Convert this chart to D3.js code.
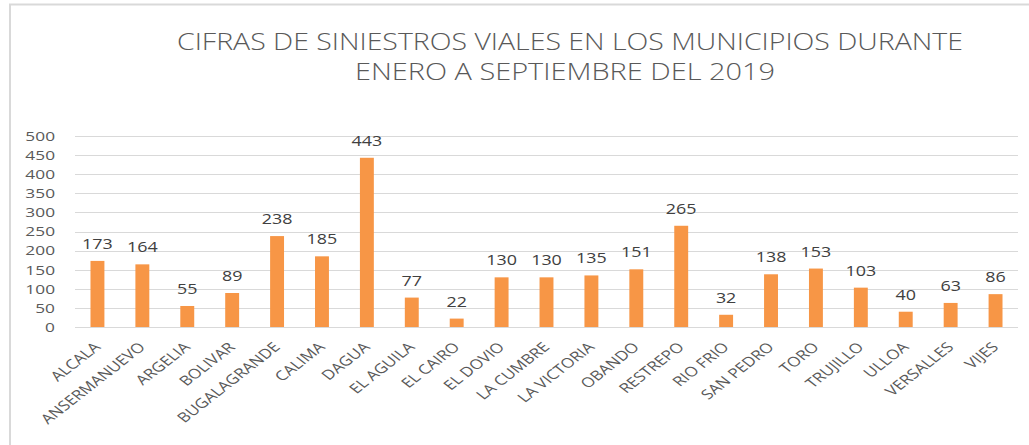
<!DOCTYPE html>
<html>
<head>
<meta charset="utf-8">
<script src="https://cdn.jsdelivr.net/npm/d3@7"></script>
<style>
  body { margin: 0; background: #fff; }
  svg { display: block; }
</style>
</head>
<body>
<div id="chart"></div>
<script>
const municipios = ['ALCALA', 'ANSERMANUEVO', 'ARGELIA', 'BOLIVAR', 'BUGALAGRANDE', 'CALIMA', 'DAGUA',
  'EL AGUILA', 'EL CAIRO', 'EL DOVIO', 'LA CUMBRE', 'LA VICTORIA', 'OBANDO', 'RESTREPO', 'RIO FRIO',
  'SAN PEDRO', 'TORO', 'TRUJILLO', 'ULLOA', 'VERSALLES', 'VIJES'];
const siniestros = [173, 164, 55, 89, 238, 185, 443, 77, 22, 130, 130, 135, 151, 265, 32, 138, 153, 103, 40, 63, 86];
const yTicks = [0, 50, 100, 150, 200, 250, 300, 350, 400, 450, 500];
const titleLines = ['CIFRAS DE SINIESTROS VIALES EN LOS MUNICIPIOS DURANTE', 'ENERO A SEPTIEMBRE DEL 2019'];

const width = 1029, height = 445;
const margin = { top: 136, right: 11, bottom: 118, left: 75 };
const innerW = width - margin.left - margin.right;
const innerH = height - margin.top - margin.bottom;
const stretch = 1.28; // the picture is a bit wider than tall, text looks stretched

const svg = d3.select('#chart').append('svg')
  .attr('width', width)
  .attr('height', height);

// chart frame
svg.append('path')
  .attr('d', `M10,${height} V4.5 H${width}`)
  .attr('fill', 'none')
  .attr('stroke', '#d9d9d9')
  .attr('stroke-width', 2);

// title
const title = svg.append('g')
  .attr('font-family', '"Open Sans", sans-serif')
  .attr('font-weight', 300)
  .attr('font-size', 23)
  .attr('fill', '#595959')
  .attr('text-anchor', 'middle');
title.append('text').attr('x', 570).attr('y', 50)
  .attr('textLength', 786).attr('lengthAdjust', 'spacingAndGlyphs')
  .text(titleLines[0]);
title.append('text').attr('x', 565).attr('y', 80)
  .attr('textLength', 420).attr('lengthAdjust', 'spacingAndGlyphs')
  .text(titleLines[1]);

const x = d3.scaleBand()
  .domain(municipios)
  .range([0, innerW])
  .paddingInner(0.69)
  .paddingOuter(0.345);

const y = d3.scaleLinear()
  .domain([0, 500])
  .range([innerH, 0]);

const g = svg.append('g')
  .attr('transform', `translate(${margin.left},${margin.top})`);

// gridlines
g.append('g')
  .selectAll('line')
  .data(yTicks)
  .join('line')
  .attr('x1', 0)
  .attr('x2', innerW)
  .attr('y1', d => Math.round(y(d)) + 0.5)
  .attr('y2', d => Math.round(y(d)) + 0.5)
  .attr('stroke', '#d9d9d9')
  .attr('stroke-width', 1);

// y axis labels
const yAxis = g.append('g')
  .call(d3.axisLeft(y).tickValues(yTicks).tickSize(0).tickPadding(20 / stretch));
yAxis.select('.domain').remove();
yAxis.selectAll('text')
  .attr('font-family', '"Open Sans", sans-serif')
  .attr('font-size', 13.5)
  .attr('fill', '#595959')
  .attr('transform', `scale(${stretch},1)`);

// bars
g.append('g')
  .selectAll('rect')
  .data(municipios)
  .join('rect')
  .attr('x', d => x(d))
  .attr('y', (d, i) => y(siniestros[i]))
  .attr('width', x.bandwidth())
  .attr('height', (d, i) => innerH - y(siniestros[i]))
  .attr('fill', '#f79646');

// value labels
g.append('g')
  .selectAll('text')
  .data(municipios)
  .join('text')
  .attr('transform', (d, i) =>
    `translate(${x(d) + x.bandwidth() / 2},${y(siniestros[i]) - 12}) scale(${stretch},1)`)
  .attr('text-anchor', 'middle')
  .attr('font-family', '"Open Sans", sans-serif')
  .attr('font-size', 14)
  .attr('fill', '#404040')
  .text((d, i) => siniestros[i]);

// category labels
const xAxis = g.append('g')
  .attr('transform', `translate(0,${innerH})`)
  .call(d3.axisBottom(x).tickSize(0).tickPadding(0));
xAxis.select('.domain').remove();
xAxis.selectAll('text')
  .attr('font-family', '"Open Sans", sans-serif')
  .attr('font-size', 13.5)
  .attr('fill', '#595959')
  .attr('text-anchor', 'end')
  .attr('y', 0)
  .attr('dy', 0)
  .attr('transform', `translate(4,21) scale(${stretch},1) rotate(-45)`);
</script>
</body>
</html>
